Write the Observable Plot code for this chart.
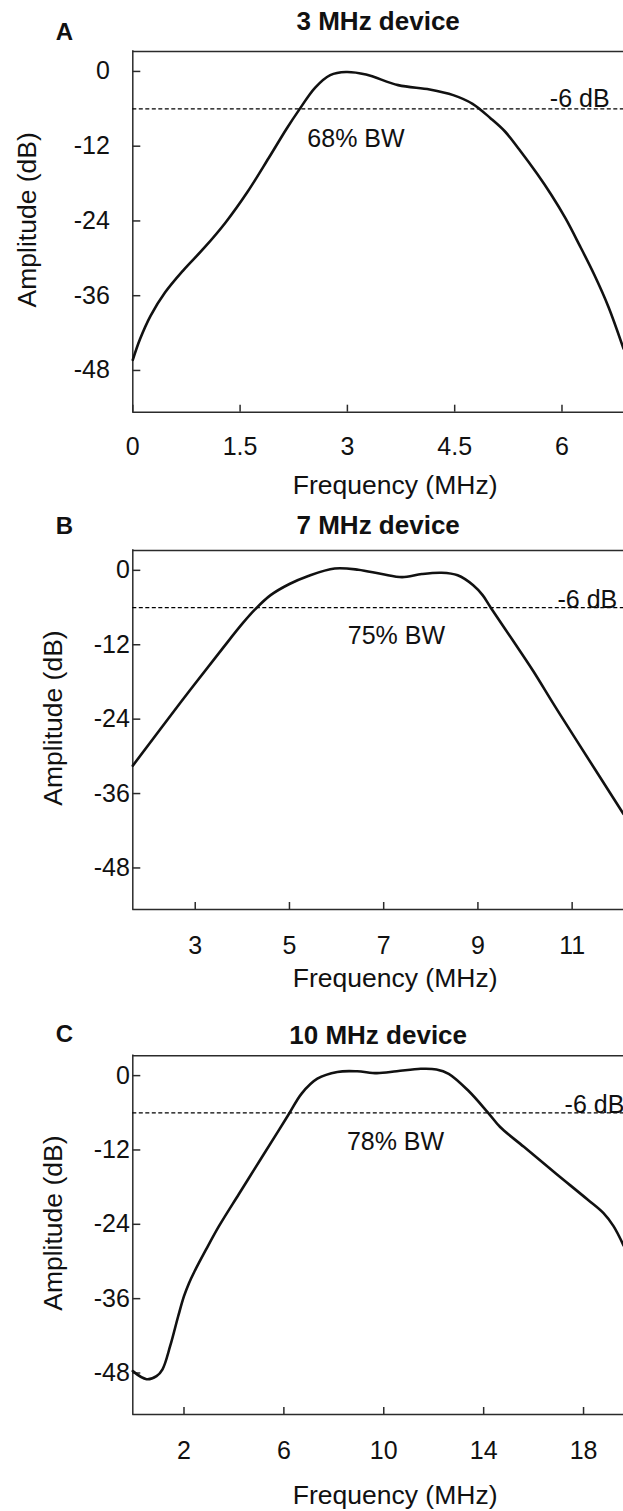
<!DOCTYPE html>
<html>
<head>
<meta charset="utf-8">
<script src="https://cdn.jsdelivr.net/npm/d3@7"></script>
<script src="https://cdn.jsdelivr.net/npm/@observablehq/plot@0.6"></script>
<style>
  html, body { margin: 0; padding: 0; background: #fff; width: 623px; overflow: hidden; }
  #chart { width: 623px; height: 1511px; position: relative; }
  #chart svg { display: block; }
</style>
</head>
<body>
<div id="chart"></div>
<script>
// ---------- shared text / ticks ----------
const yTicks = [0, -12, -24, -36, -48];
const yDomain = [-54.7, 3.2];
const thresholdDb = -6;
const thresholdLabel = "-6 dB";
const xLabel = "Frequency (MHz)";
const yLabel = "Amplitude (dB)";
const panelLetters = ["A", "B", "C"];
const panelTitles = ["3 MHz device", "7 MHz device", "10 MHz device"];
const bwLabels = ["68% BW", "75% BW", "78% BW"];

// ---------- panel A: 3 MHz ----------
const xTicksA = [0, 1.5, 3, 4.5, 6];
const xDomainA = [0, 6.86];
const freqA = [0, 0.1, 0.25, 0.45, 0.7, 1.0, 1.3, 1.6, 1.9, 2.15, 2.32, 2.55, 2.76, 2.98, 3.26, 3.71, 4.15, 4.48, 4.75, 5.0, 5.2, 5.4, 5.65, 5.85, 6.05, 6.25, 6.45, 6.65, 6.86];
const dbA   = [-46.3, -43.0, -39.2, -35.5, -32.0, -28.3, -24.2, -19.4, -13.9, -9.2, -6.25, -2.6, -0.6, -0.1, -0.5, -2.2, -2.9, -3.8, -5.2, -7.5, -9.6, -12.5, -16.4, -19.8, -23.6, -28.0, -32.6, -37.8, -44.5];

// ---------- panel B: 7 MHz ----------
const xTicksB = [3, 5, 7, 9, 11];
const xDomainB = [1.675, 12.09];
const freqB = [1.675, 2.7, 3.59, 4.0, 4.27, 4.6, 5.0, 5.4, 5.96, 6.46, 6.96, 7.39, 7.81, 8.23, 8.57, 8.9, 9.1, 9.28, 9.75, 10.17, 10.6, 11.1, 12.09];
const dbB   = [-31.5, -21.2, -12.5, -8.6, -6.3, -4.0, -2.2, -0.9, 0.3, 0.1, -0.6, -1.1, -0.6, -0.4, -0.8, -2.4, -4.0, -6.1, -11.4, -16.2, -21.5, -27.5, -39.3];

// ---------- panel C: 10 MHz ----------
const xTicksC = [2, 6, 10, 14, 18];
const xDomainC = [-0.05, 19.6];
const freqC = [-0.05, 0.5, 0.9, 1.14, 1.45, 1.77, 2.0, 2.2, 2.41, 2.88, 3.4, 4.2, 5.1, 5.8, 6.23, 6.71, 7.34, 8.14, 8.93, 9.73, 10.52, 11.48, 12.11, 12.6, 13.38, 14.18, 14.66, 15.61, 16.89, 18.16, 18.8, 19.2, 19.6];
const dbC   = [-47.7, -49.0, -48.5, -47.4, -43.6, -38.8, -35.6, -33.5, -31.7, -28.1, -24.3, -19.1, -13.3, -8.8, -6.0, -2.9, -0.5, 0.6, 0.7, 0.4, 0.7, 1.1, 1.0, 0.3, -2.4, -6.0, -8.3, -11.5, -15.8, -20.0, -22.2, -24.3, -27.4];

// ---------- layout (pixels / annotation anchors) ----------
const font = "'Liberation Sans', Arial, Helvetica, sans-serif";
const W = 623, ML = 132.3;
const layouts = [
  {height: 500, marginTop: 51,   marginBottom: 88.3, yPad: 23, xPad: 25, xLabelDy: 73, yLabelDx: -105, titleDy: -30, letterDy: -19, bwAt: [3.12, -10.9], thrAt: [5.83, -5.7]},
  {height: 510, marginTop: 50,   marginBottom: 101,  yPad: 3,  xPad: 27, xLabelDy: 69, yLabelDx: -79,  titleDy: -25, letterDy: -24, bwAt: [7.27, -10.6], thrAt: [10.69, -6]},
  {height: 501, marginTop: 45.3, marginBottom: 97,   yPad: 3,  xPad: 27, xLabelDy: 81, yLabelDx: -79,  titleDy: -20, letterDy: -21, bwAt: [10.47, -10.7], thrAt: [17.24, -6]}
];

const series = [
  {freq: freqA, db: dbA, xTicks: xTicksA, xDomain: xDomainA},
  {freq: freqB, db: dbB, xTicks: xTicksB, xDomain: xDomainB},
  {freq: freqC, db: dbC, xTicks: xTicksC, xDomain: xDomainC}
];

function panel(i) {
  const s = series[i], L = layouts[i];
  const data = s.freq.map((f, k) => ({f, db: s.db[k]}));
  const axisStroke = "#2b2b2b";
  const plotH = L.height - L.marginTop - L.marginBottom;
  const plotW = W - ML;
  return Plot.plot({
    width: W,
    height: L.height,
    marginLeft: ML,
    marginRight: 0,
    marginTop: L.marginTop,
    marginBottom: L.marginBottom,
    style: {fontFamily: font, color: "#111", background: "#fff"},
    x: {domain: s.xDomain, label: null},
    y: {domain: yDomain, label: null},
    marks: [
      // frame (top, bottom, left)
      Plot.ruleY([yDomain[1]], {stroke: axisStroke, strokeWidth: 1.5}),
      Plot.ruleY([yDomain[0]], {stroke: axisStroke, strokeWidth: 1.5}),
      Plot.ruleX([s.xDomain[0]], {stroke: axisStroke, strokeWidth: 1.5, strokeLinecap: "square"}),
      // -6 dB reference
      Plot.ruleY([thresholdDb], {stroke: "#000", strokeWidth: 1.2, strokeDasharray: "4,2.5"}),
      // inward tick marks
      Plot.tickX(s.xTicks, {x: d => d, insetTop: plotH - 7, stroke: axisStroke, strokeWidth: 1.5}),
      Plot.tickY(yTicks, {y: d => d, insetRight: plotW - 8, stroke: axisStroke, strokeWidth: 1.5}),
      // tick labels
      Plot.axisX(s.xTicks, {tickSize: 0, tickPadding: L.xPad, fontSize: 25, fill: "#111", tickFormat: d => String(d), label: null}),
      Plot.axisY(yTicks, {tickSize: 0, tickPadding: L.yPad, fontSize: 25, fill: "#111", tickFormat: d => String(d), label: null}),
      // response curve
      Plot.line(data, {x: "f", y: "db", curve: "catmull-rom", stroke: "#111", strokeWidth: 2.6}),
      // annotations
      Plot.text([bwLabels[i]], {x: L.bwAt[0], y: L.bwAt[1], text: d => d, fontSize: 25, textAnchor: "middle", lineAnchor: "middle", fill: "#111"}),
      Plot.text([thresholdLabel], {x: L.thrAt[0], y: L.thrAt[1], text: d => d, fontSize: 25, textAnchor: "start", lineAnchor: "bottom", fill: "#111"}),
      // titles and axis labels
      Plot.text([panelTitles[i]], {frameAnchor: "top", dy: L.titleDy, text: d => d, fontSize: 26, fontWeight: "bold", textAnchor: "middle", lineAnchor: "middle", fill: "#111"}),
      Plot.text([panelLetters[i]], {frameAnchor: "top-left", dx: -77, dy: L.letterDy, text: d => d, fontSize: 24, fontWeight: "bold", textAnchor: "start", lineAnchor: "middle", fill: "#111"}),
      Plot.text([xLabel], {frameAnchor: "bottom", dx: 17, dy: L.xLabelDy, text: d => d, fontSize: 26.5, textAnchor: "middle", lineAnchor: "middle", fill: "#111"}),
      Plot.text([yLabel], {frameAnchor: "left", rotate: -90, dx: L.yLabelDx, dy: -12, text: d => d, fontSize: 26.5, textAnchor: "middle", lineAnchor: "middle", fill: "#111"})
    ]
  });
}

const root = document.getElementById("chart");
for (let i = 0; i < 3; i++) root.appendChild(panel(i));
</script>
</body>
</html>
